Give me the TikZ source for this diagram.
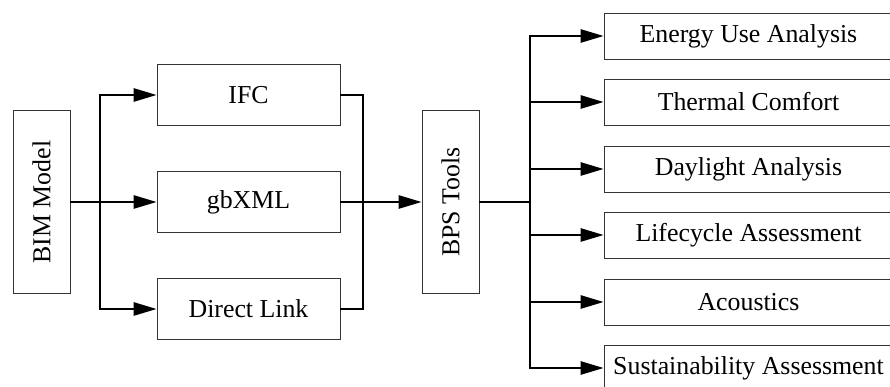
\documentclass[tikz,border=0pt]{standalone}
\usepackage{fontspec}
\setmainfont{Liberation Serif}
\usetikzlibrary{arrows.meta}

\begin{document}
\begin{tikzpicture}
		\tikzset{>={Triangle[length=13pt,width=7.5pt]},
			box/.style={draw=black!80, line width=0.5pt, minimum width=3.66cm, minimum height=1.22cm, font=\fontsize{14.7}{17}\selectfont},
			tallbox/.style={box, minimum width=3.66cm, minimum height=1.14cm, rotate=90},
			outbox/.style={box, minimum width=5.78cm, minimum height=0.92cm},
			link/.style={line width=1.1pt}}
		\clip (0,0) rectangle (17.8,7.74);
		% source and exchange formats
		\node[tallbox] (bim) at (0.83,3.70) {BIM Model};
		\node[box] (ifc) at (4.97,5.84) {IFC};
		\node[box] (gbxml) at (4.97,3.70) {gbXML};
		\node[box] (direct) at (4.97,1.56) {Direct Link};
		\node[tallbox] (bps) at (9.01,3.70) {BPS Tools};
		\coordinate (split) at (2.0,3.70);
		\coordinate (merge) at (7.26,3.70);
		\coordinate (fan) at (10.6,3.70);
		\draw[link] (bim) -- (split);
		\draw[link,->] (split) |- (ifc.west);
		\draw[link,->] (split) -- (gbxml.west);
		\draw[link,->] (split) |- (direct.west);
		\draw[link] (ifc.east) -| (merge);
		\draw[link] (direct.east) -| (merge);
		\draw[link,->] (gbxml.east) -- (bps);
		% analysis outputs
		\node[outbox] (energy) at (14.97,7.02) {Energy Use Analysis};
		\node[outbox] (thermal) at (14.97,5.70) {Thermal Comfort};
		\node[outbox] (daylight) at (14.97,4.36) {Daylight Analysis};
		\node[outbox] (lca) at (14.97,3.04) {Lifecycle Assessment};
		\node[outbox] (acoustics) at (14.97,1.70) {Acoustics};
		\node[outbox] (sustain) at (14.97,0.38) {Sustainability Assessment};
		\draw[link] (bps) -- (fan);
		\foreach \n in {energy,thermal,daylight,lca,acoustics,sustain}
			\draw[link,->] (fan) |- (\n.west);
	\end{tikzpicture}
\end{document}
